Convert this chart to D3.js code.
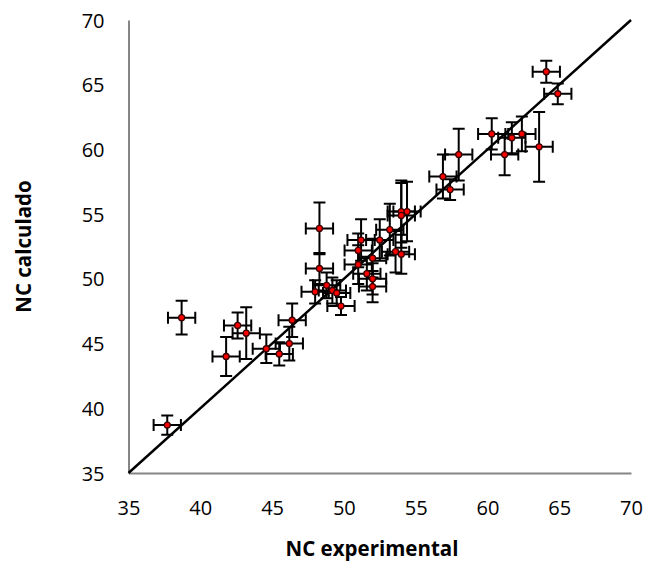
<!DOCTYPE html>
<html>
<head>
<meta charset="utf-8">
<script src="https://cdn.jsdelivr.net/npm/d3@7"></script>
<style>
  html, body { margin: 0; padding: 0; background: #fff; }
  svg { display: block; }
  text { font-family: "Open Sans", "Noto Sans", sans-serif; fill: #000; }
</style>
</head>
<body>
<svg id="chart" width="647" height="564"></svg>
<script>
// NC experimental vs NC calculado, with error bars on both axes
const ncExperimental = [37.7, 38.7, 41.8, 42.6, 43.2, 44.6, 45.5, 46.2, 46.4,
  48.0, 48.3, 48.3, 48.8, 49.2, 49.5, 49.8,
  51.0, 51.0, 51.2, 51.6, 52.0, 52.0, 52.0, 52.5, 53.2, 53.6, 54.0, 54.0, 54.0, 54.4,
  56.9, 57.4, 58.0, 60.3, 61.2, 61.7, 62.4, 63.6, 64.1, 64.9];
const ncCalculado = [38.7, 47.0, 44.0, 46.4, 45.8, 44.6, 44.2, 45.0, 46.8,
  49.0, 50.8, 53.9, 49.5, 49.1, 48.9, 47.9,
  52.2, 51.1, 53.0, 50.4, 51.6, 50.0, 49.4, 53.0, 53.8, 52.1, 51.9, 55.2, 54.9, 55.2,
  57.9, 56.9, 59.6, 61.2, 59.6, 60.9, 61.2, 60.2, 66.0, 64.3];
const errExperimental = [0.95, 0.95, 0.95, 0.95, 0.95, 0.95, 0.95, 0.95, 0.95,
  0.95, 0.95, 0.95, 0.95, 0.95, 0.95, 0.95,
  0.95, 0.95, 0.95, 0.95, 0.95, 0.95, 0.95, 0.95, 0.95, 0.95, 0.95, 0.95, 0.95, 0.95,
  0.95, 0.95, 0.95, 0.95, 0.95, 0.95, 0.95, 0.95, 0.95, 0.95];
const errCalculado = [0.75, 1.3, 1.5, 1.0, 2.0, 1.1, 0.9, 1.3, 1.3,
  0.9, 1.2, 2.0, 1.0, 1.0, 1.0, 0.7,
  1.3, 1.5, 1.6, 1.3, 1.5, 1.2, 1.2, 1.6, 2.0, 1.6, 1.5, 2.4, 2.5, 2.3,
  1.7, 0.8, 2.0, 1.2, 1.6, 1.2, 1.35, 2.7, 0.85, 0.8];
const tickValues = [35, 40, 45, 50, 55, 60, 65, 70];
const xTitle = "NC experimental";
const yTitle = "NC calculado";

const svg = d3.select("#chart");
const plot = { left: 128.5, right: 631, top: 20, bottom: 473 };

const x = d3.scaleLinear().domain([35, 70]).range([plot.left, plot.right]);
const y = d3.scaleLinear().domain([35, 70]).range([plot.bottom, plot.top]);

const points = ncExperimental.map((v, i) => ({
  x: v, y: ncCalculado[i], ex: errExperimental[i], ey: errCalculado[i]
}));

// axes: grey spine, no tick marks
const xAxis = svg.append("g")
  .attr("transform", `translate(0,${plot.bottom})`)
  .call(d3.axisBottom(x).tickValues(tickValues).tickSize(0).tickPadding(42));
const yAxis = svg.append("g")
  .attr("transform", `translate(${plot.left},0)`)
  .call(d3.axisLeft(y).tickValues(tickValues).tickSize(0).tickPadding(24));

[xAxis, yAxis].forEach(g => {
  g.select(".domain").attr("stroke", "#868686").attr("stroke-width", 2);
  g.selectAll("text")
    .style("font-family", '"Open Sans", sans-serif')
    .style("font-size", "20px")
    .attr("fill", "#000");
});
xAxis.selectAll("text").attr("dy", "0");
yAxis.selectAll("text").attr("dy", "0.35em");

// identity line y = x
svg.append("line")
  .attr("x1", x(35)).attr("y1", y(35))
  .attr("x2", x(70)).attr("y2", y(70))
  .attr("stroke", "#000").attr("stroke-width", 2.5);

// error bars
const cap = 6;
const bars = svg.append("g").attr("stroke", "#000").attr("stroke-width", 2).attr("fill", "none");
points.forEach(p => {
  const cx = x(p.x), cy = y(p.y);
  const x0 = x(p.x - p.ex), x1 = x(p.x + p.ex);
  const y0 = y(p.y - p.ey), y1 = y(p.y + p.ey);
  bars.append("path").attr("d",
    `M${x0},${cy}H${x1}` +
    `M${x0},${cy - cap}V${cy + cap}` +
    `M${x1},${cy - cap}V${cy + cap}` +
    `M${cx},${y0}V${y1}` +
    `M${cx - cap},${y0}H${cx + cap}` +
    `M${cx - cap},${y1}H${cx + cap}`);
});

// markers
svg.append("g").selectAll("circle")
  .data(points)
  .join("circle")
  .attr("cx", d => x(d.x))
  .attr("cy", d => y(d.y))
  .attr("r", 3)
  .attr("fill", "#ff0000")
  .attr("stroke", "#3a0000")
  .attr("stroke-width", 1.3);

// axis titles
svg.append("text")
  .attr("x", 372)
  .attr("y", 556)
  .attr("text-anchor", "middle")
  .style("font-size", "20.5px")
  .style("font-weight", "bold")
  .text(xTitle);

svg.append("text")
  .attr("transform", `translate(31,${(plot.top + plot.bottom) / 2}) rotate(-90)`)
  .attr("text-anchor", "middle")
  .style("font-size", "20.5px")
  .style("font-weight", "bold")
  .text(yTitle);
</script>
</body>
</html>
